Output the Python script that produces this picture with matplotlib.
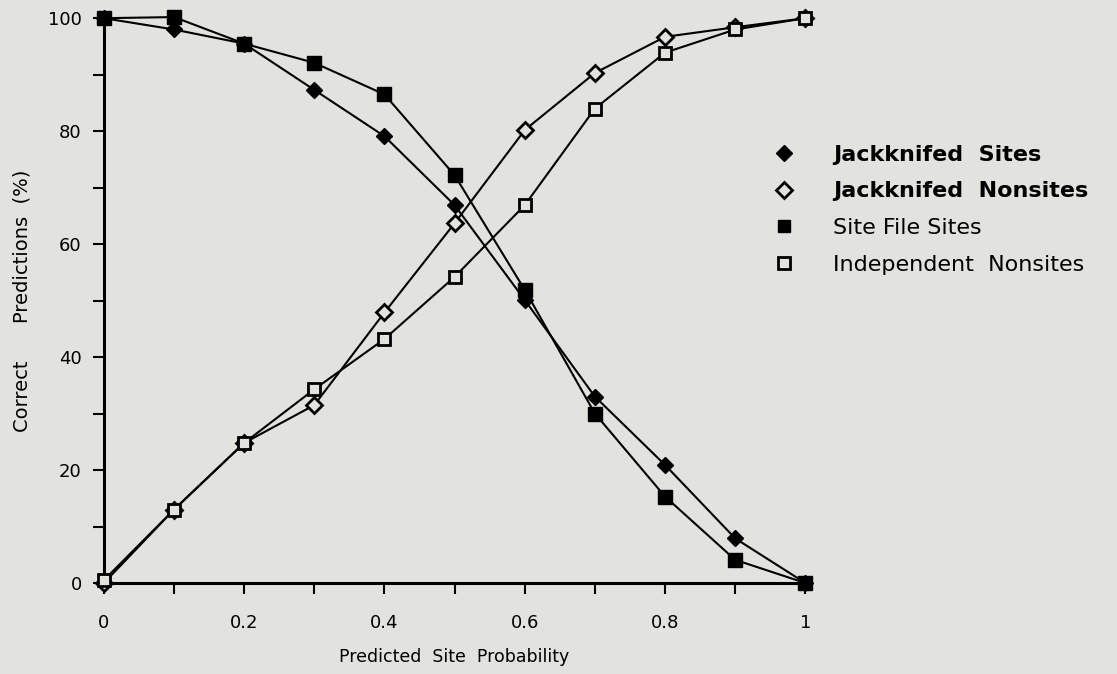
import matplotlib
matplotlib.use("Agg")
import matplotlib.pyplot as plt
from matplotlib.lines import Line2D
import numpy as np

# Data
prob = [0, 0.1, 0.2, 0.3, 0.4, 0.5, 0.6, 0.7, 0.8, 0.9, 1.0]
jack_sites = [100, 98, 95.5, 87.3, 79.1, 66.9, 50.1, 33.0, 20.9, 7.9, 0]
jack_nonsites = [0, 13, 24.8, 31.5, 47.9, 63.7, 80.2, 90.3, 96.7, 98.4, 100]
file_sites = [100, 100.2, 95.5, 92.1, 86.5, 72.2, 51.9, 30.0, 15.3, 4.1, 0]
indep_nonsites = [0.5, 13, 24.8, 34.3, 43.2, 54.2, 66.9, 84.0, 93.9, 98.0, 100]

labels = ['Jackknifed  Sites', 'Jackknifed  Nonsites', 'Site File Sites', 'Independent  Nonsites']
xtick_labels = ['0', '', '0.2', '', '0.4', '', '0.6', '', '0.8', '', '1']

bg = '#e2e3de'
plt.rcParams['font.family'] = ['DejaVu Sans']

fig = plt.figure(figsize=(11.17, 6.74), dpi=100, facecolor=bg)
ax = fig.add_axes([0.093, 0.135, 0.628, 0.838], facecolor=bg)

ax.plot(prob, jack_sites, color='black', lw=1.5, marker='D', ms=8,
        mfc='black', mec='black', clip_on=False, zorder=3)
ax.plot(prob, file_sites, color='black', lw=1.5, marker='s', ms=10,
        mfc='black', mec='black', clip_on=False, zorder=3)
ax.plot(prob, jack_nonsites, color='black', lw=1.5, marker='D', ms=8,
        mfc=bg, mec='black', mew=2, clip_on=False, zorder=4)
ax.plot(prob, indep_nonsites, color='black', lw=1.5, marker='s', ms=9,
        mfc=bg, mec='black', mew=2, clip_on=False, zorder=4)

ax.set_xlim(0, 1)
ax.set_ylim(0, 100)
ax.set_xticks(np.arange(0, 1.01, 0.1))
ax.set_xticklabels(xtick_labels)
ax.set_yticks(np.arange(0, 101, 10))
ax.set_yticklabels([str(v) if v % 20 == 0 else '' for v in range(0, 101, 10)])
ax.tick_params(direction='out', length=8, width=1.5, labelsize=13)
ax.tick_params(axis='x', pad=14)
ax.tick_params(axis='y', pad=8)

for s in ['top', 'right']:
    ax.spines[s].set_visible(False)
for s in ['left', 'bottom']:
    ax.spines[s].set_linewidth(2.2)

ax.set_xlabel('Predicted  Site  Probability', fontsize=12.5, labelpad=12)
ax.set_ylabel('Correct      Predictions  (%)', fontsize=14, labelpad=12)

handles = [
    Line2D([], [], ls='none', marker='D', ms=8, mfc='black', mec='black'),
    Line2D([], [], ls='none', marker='D', ms=8, mfc=bg, mec='black', mew=2),
    Line2D([], [], ls='none', marker='s', ms=9, mfc='black', mec='black'),
    Line2D([], [], ls='none', marker='s', ms=8, mfc=bg, mec='black', mew=2),
]
leg = fig.legend(handles, labels, loc='upper left', bbox_to_anchor=(0.674, 0.815),
                 frameon=False, fontsize=16, handlelength=1.0, handletextpad=1.7,
                 labelspacing=0.75)
for t in leg.get_texts()[:2]:
    t.set_fontweight('bold')

fig.savefig('out.png', dpi=100, facecolor=bg)
